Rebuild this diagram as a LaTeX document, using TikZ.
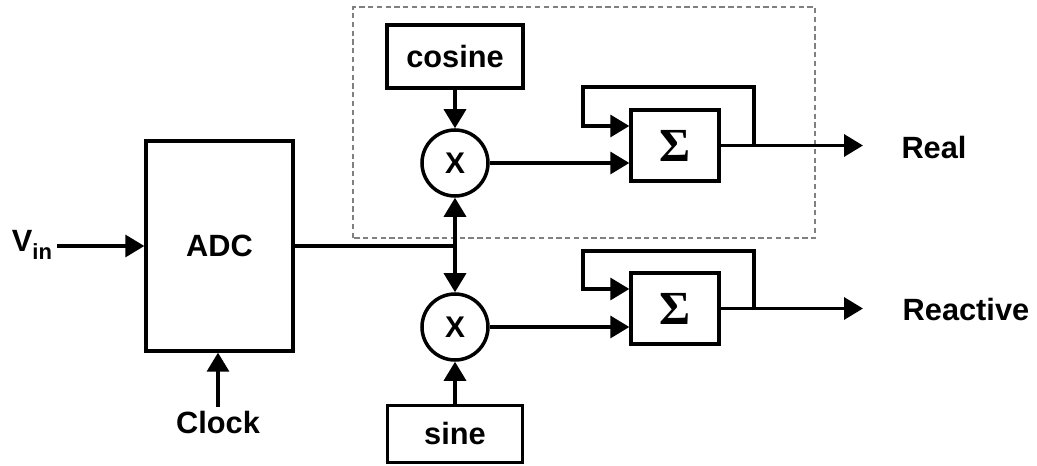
\documentclass[tikz,border=0pt]{standalone}
\usepackage{fontspec}
\setmainfont{Liberation Sans}
\newfontfamily\sigmafont{Liberation Serif}
\usetikzlibrary{arrows.meta}
\begin{document}
\begin{tikzpicture}[
  box/.style={draw, line width=1.9pt, inner sep=0pt, font=\fontsize{17.5}{20}\selectfont\bfseries},
  mixer/.style={circle, draw, line width=2pt, minimum size=1.32cm, inner sep=0pt, font=\fontsize{17}{20}\selectfont\bfseries},
  sumbox/.style={box, minimum width=1.76cm, minimum height=1.42cm, font=\fontsize{27}{27}\selectfont\sigmafont\bfseries},
  lbl/.style={inner sep=2.5pt, font=\fontsize{17.5}{20}\selectfont\bfseries},
  wire/.style={line width=1.9pt},
  sig/.style={wire, -{Triangle[length=0.38cm,width=0.44cm]}}]
\useasboundingbox (0,0) rectangle (20.74,9.32);
\draw[gray, line width=0.6pt, dash pattern=on 3pt off 2pt] (7.06,4.56) rectangle (16.3,9.18);
\node[box, minimum width=2.94cm, minimum height=4.2cm] (adc) at (4.39,4.4) {ADC};
\node[lbl] (vin) at (0.64,4.42) {V\raisebox{-0.16cm}{\fontsize{12.5}{12}\selectfont in}};
\node[lbl] (clk) at (4.36,0.86) {Clock};
\node[box, minimum width=2.72cm, minimum height=1.26cm] (cos) at (9.1,8.19) {cosine};
\node[mixer] (m1) at (9.1,6.06) {X};
\node[mixer] (m2) at (9.1,2.78) {X};
\node[box, minimum width=2.7cm, minimum height=1.14cm] (sin) at (9.1,0.64) {sine};
\node[sumbox] (s1) at (13.5,6.41) {Σ};
\node[sumbox] (s2) at (13.5,3.15) {Σ};
\node[lbl] (real) at (18.68,6.36) {Real};
\node[lbl] (reac) at (19.32,3.12) {Reactive};
\coordinate (tap1) at (15.08,6.41);
\coordinate (fb1) at (11.66,7.58);
\coordinate (out1) at (17.26,6.41);
\coordinate (tap2) at (15.08,3.15);
\coordinate (fb2) at (11.66,4.3);
\coordinate (out2) at (17.26,3.15);
\draw[sig] (vin.east |- adc.west) -- (adc.west);
\draw[sig] (clk.north) -- (clk.north |- adc.south);
\draw[wire] (adc.east) -- (adc.east -| m1.south) coordinate (junc);
\draw[sig] (junc) -- (m1.south);
\draw[sig] (junc) -- (m2.north);
\draw[sig] (cos) -- (m1);
\draw[sig] (sin) -- (m2);
\draw[sig] (m1.east) -- (m1.east -| s1.west);
\draw[sig] (m2.east) -- (m2.east -| s2.west);
\draw[sig] (s1.east) -- (out1);
\draw[sig] (tap1) |- (fb1) |- ([yshift=0.39cm]s1.west);
\draw[sig] (s2.east) -- (out2);
\draw[sig] (tap2) |- (fb2) |- ([yshift=0.39cm]s2.west);
\end{tikzpicture}
\end{document}
